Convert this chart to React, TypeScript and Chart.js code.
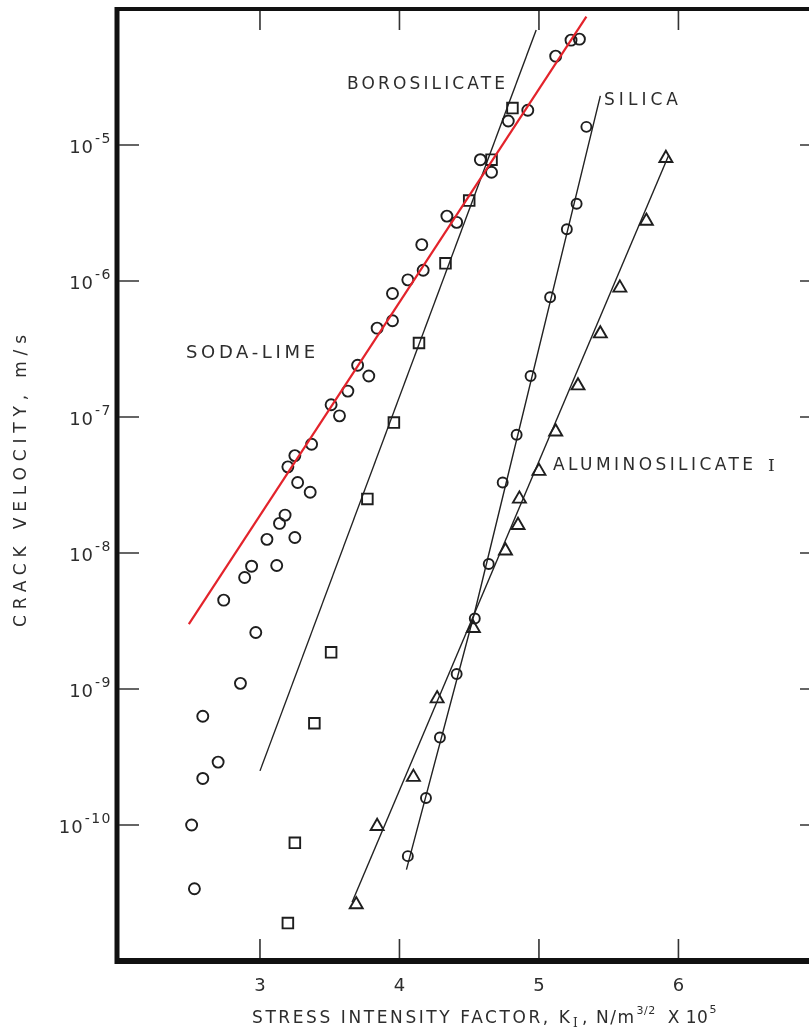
import React, { useEffect, useRef } from "react";
import { Chart, registerables } from "chart.js";

Chart.register(...registerables);

// ---------- data (K in units of 1e5 N/m^3/2, velocity in m/s) ----------
const sodaLimeK = [2.53, 2.51, 2.59, 2.70, 2.59, 2.86, 2.97, 2.74, 2.89, 2.94, 3.12, 3.05, 3.14, 3.18, 3.25, 3.36, 3.27, 3.20, 3.25, 3.37, 3.51, 3.57, 3.63, 3.70, 3.78, 3.84, 3.95, 3.95, 4.06, 4.17, 4.16, 4.34, 4.41, 4.58, 4.66, 4.78, 4.92, 5.12, 5.23, 5.29];
const sodaLimeV = [3.4e-11, 1.0e-10, 2.2e-10, 2.9e-10, 6.3e-10, 1.1e-9, 2.6e-9, 4.5e-9, 6.6e-9, 8.0e-9, 8.1e-9, 1.26e-8, 1.65e-8, 1.9e-8, 1.3e-8, 2.8e-8, 3.3e-8, 4.3e-8, 5.2e-8, 6.3e-8, 1.23e-7, 1.02e-7, 1.55e-7, 2.4e-7, 2.0e-7, 4.5e-7, 5.1e-7, 8.1e-7, 1.02e-6, 1.2e-6, 1.85e-6, 3.0e-6, 2.7e-6, 7.8e-6, 6.3e-6, 1.5e-5, 1.8e-5, 4.5e-5, 5.9e-5, 6.0e-5];

const borosilicateK = [3.20, 3.25, 3.39, 3.51, 3.77, 3.96, 4.14, 4.33, 4.50, 4.66, 4.81];
const borosilicateV = [1.9e-11, 7.4e-11, 5.6e-10, 1.86e-9, 2.5e-8, 9.1e-8, 3.5e-7, 1.35e-6, 3.9e-6, 7.8e-6, 1.87e-5];

const silicaK = [4.06, 4.19, 4.29, 4.41, 4.54, 4.64, 4.74, 4.84, 4.94, 5.08, 5.20, 5.27, 5.34];
const silicaV = [5.9e-11, 1.58e-10, 4.4e-10, 1.29e-9, 3.3e-9, 8.3e-9, 3.3e-8, 7.4e-8, 2.0e-7, 7.6e-7, 2.4e-6, 3.7e-6, 1.36e-5];

const aluminosilicateK = [3.69, 3.84, 4.10, 4.27, 4.53, 4.76, 4.85, 4.86, 5.00, 5.12, 5.28, 5.44, 5.58, 5.77, 5.91];
const aluminosilicateV = [2.6e-11, 9.8e-11, 2.25e-10, 8.5e-10, 2.8e-9, 1.04e-8, 1.6e-8, 2.5e-8, 4.0e-8, 7.8e-8, 1.7e-7, 4.1e-7, 8.9e-7, 2.76e-6, 8.0e-6];

// fitted lines
const sodaLimeFitK = [2.49, 5.34];
const sodaLimeFitV = [3.0e-9, 8.8e-5];
const borosilicateFitK = [3.0, 4.98];
const borosilicateFitV = [2.5e-10, 7.0e-5];
const silicaFitK = [4.05, 4.54, 5.44];
const silicaFitV = [4.7e-11, 3.7e-9, 2.3e-5];
const aluminosilicateFitK = [3.66, 5.93];
const aluminosilicateFitV = [2.7e-11, 8.4e-6];

// axes
const xTicks = [3, 4, 5, 6];
const xTickLabels = ["3", "4", "5", "6"];
const yTickExps = [-5, -6, -7, -8, -9, -10];
const xRange = [1.975, 6.936];
const yRange = [1e-11, 1e-4];

const curveLabels = ["BOROSILICATE", "SILICA", "SODA-LIME", "ALUMINOSILICATE"];

const pts = (xs: number[], ys: number[]) => xs.map((x, i) => ({ x, y: ys[i] }));

const INK = "#2d2d2d";
const FONT = "'DejaVu Sans', 'Open Sans', sans-serif";
const SERIF = "'DejaVu Serif', 'Liberation Serif', serif";

function txt(ctx: CanvasRenderingContext2D, s: string, x: number, y: number, font: string, spacing: number) {
  ctx.font = font;
  (ctx as any).letterSpacing = spacing + "px";
  ctx.fillText(s, x, y);
  const w = ctx.measureText(s).width;
  return x + w;
}

// draw text stretched (by letter spacing) to a given width
function fitTxt(ctx: CanvasRenderingContext2D, s: string, x: number, y: number, font: string, width: number) {
  ctx.font = font;
  (ctx as any).letterSpacing = "0px";
  const w0 = ctx.measureText(s).width;
  const sp = (width - w0) / Math.max(1, s.length - 1);
  txt(ctx, s, x, y, font, sp);
  return x + width;
}

const framePlugin = {
  id: "frameAndText",
  afterDatasetsDraw(chart: any) {
    const { ctx, chartArea: a, scales } = chart;
    const xs = scales.x;
    const ys = scales.y;
    ctx.save();
    ctx.fillStyle = INK;
    ctx.strokeStyle = "#111";

    // frame
    ctx.lineCap = "butt";
    ctx.lineWidth = 5;
    ctx.beginPath();
    ctx.moveTo(a.left, a.top - 2);
    ctx.lineTo(a.left, a.bottom + 3);
    ctx.stroke();
    ctx.lineWidth = 4;
    ctx.beginPath();
    ctx.moveTo(a.left - 2, a.top);
    ctx.lineTo(a.right, a.top);
    ctx.stroke();
    ctx.lineWidth = 6;
    ctx.beginPath();
    ctx.moveTo(a.left - 2, a.bottom);
    ctx.lineTo(a.right, a.bottom);
    ctx.stroke();

    // ticks (inward)
    ctx.lineWidth = 1.6;
    ctx.strokeStyle = "#333";
    xTicks.forEach((v) => {
      const px = xs.getPixelForValue(v);
      ctx.beginPath();
      ctx.moveTo(px, a.bottom - 3);
      ctx.lineTo(px, a.bottom - 22);
      ctx.moveTo(px, a.top + 2);
      ctx.lineTo(px, a.top + 21);
      ctx.stroke();
    });
    yTickExps.forEach((e) => {
      const py = ys.getPixelForValue(Math.pow(10, e));
      ctx.beginPath();
      ctx.moveTo(a.left + 2, py);
      ctx.lineTo(a.left + 22, py);
      ctx.moveTo(a.right - 9, py);
      ctx.lineTo(a.right, py);
      ctx.stroke();
    });

    // y tick labels 10^e
    ctx.textBaseline = "middle";
    ctx.textAlign = "left";
    yTickExps.forEach((e) => {
      const py = ys.getPixelForValue(Math.pow(10, e));
      const sup = "-" + String(-e);
      ctx.font = `14px ${FONT}`;
      (ctx as any).letterSpacing = "1.5px";
      const sw = ctx.measureText(sup).width;
      ctx.font = `18px ${FONT}`;
      (ctx as any).letterSpacing = "1px";
      const bw = ctx.measureText("10").width;
      const right = a.left - 5;
      txt(ctx, "10", right - sw - bw - 1, py + 3, `18px ${FONT}`, 1);
      txt(ctx, sup, right - sw, py - 6, `14px ${FONT}`, 1.5);
    });

    // x tick labels
    ctx.textAlign = "center";
    xTicks.forEach((v, i) => {
      const px = xs.getPixelForValue(v);
      txt(ctx, xTickLabels[i], px, a.bottom + 25, `18px ${FONT}`, 0);
    });

    // x title
    ctx.textAlign = "left";
    ctx.textBaseline = "alphabetic";
    const base = 1023;
    fitTxt(ctx, "STRESS INTENSITY FACTOR, K", 252, base, `17px ${FONT}`, 318);
    txt(ctx, "I", 573, base + 4, `12px ${SERIF}`, 0);
    txt(ctx, ",", 582, base, `17px ${FONT}`, 0);
    const nm = txt(ctx, "N/m", 596, base, `17px ${FONT}`, 1.5);
    const sq = txt(ctx, "3/2", nm + 1, base - 9, `11px ${FONT}`, 0.5);
    const x10 = txt(ctx, "X 10", sq + 12, base, `17px ${FONT}`, 0.5);
    txt(ctx, "5", x10 + 1, base - 10, `11px ${FONT}`, 0);

    // y title (rotated)
    ctx.save();
    ctx.translate(22, 627);
    ctx.rotate(-Math.PI / 2);
    ctx.textAlign = "left";
    ctx.textBaseline = "middle";
    fitTxt(ctx, "CRACK VELOCITY, m/s", 0, 0, `17px ${FONT}`, 292);
    ctx.restore();

    // curve labels
    ctx.textAlign = "left";
    ctx.textBaseline = "middle";
    fitTxt(ctx, curveLabels[0], 347, 85, `17px ${FONT}`, 158);
    fitTxt(ctx, curveLabels[1], 604, 101, `17px ${FONT}`, 74);
    fitTxt(ctx, curveLabels[2], 186, 353, `18px ${FONT}`, 129);
    fitTxt(ctx, curveLabels[3], 553, 466, `17px ${FONT}`, 200);
    txt(ctx, "I", 768, 467, `17px ${SERIF}`, 0);

    ctx.restore();
  },
};

export default function App() {
  const ref = useRef<HTMLCanvasElement>(null);
  useEffect(() => {
    const marker = (style: string, r: number) => ({
      showLine: false,
      pointStyle: style,
      pointRadius: r,
      pointBorderWidth: 1.9,
      pointBorderColor: "#1e1e1e",
      pointBackgroundColor: "rgba(255,255,255,0)",
      order: 1,
    });
    const fit = (color: string, w: number, order: number) => ({
      showLine: true,
      borderColor: color,
      borderWidth: w,
      pointRadius: 0,
      tension: 0,
      order,
    });
    const chart = new Chart(ref.current as HTMLCanvasElement, {
      type: "scatter",
      data: {
        datasets: [
          { label: "Soda-lime fit", data: pts(sodaLimeFitK, sodaLimeFitV), ...fit("#e3232b", 2.2, 0) } as any,
          { label: "Soda-lime", data: pts(sodaLimeK, sodaLimeV), ...marker("circle", 5.5) },
          { label: "Borosilicate", data: pts(borosilicateK, borosilicateV), ...marker("rect", 7.5) },
          { label: "Silica", data: pts(silicaK, silicaV), ...marker("circle", 5) },
          { label: "Aluminosilicate I", data: pts(aluminosilicateK, aluminosilicateV), ...marker("triangle", 7.5) },
          { label: "Borosilicate fit", data: pts(borosilicateFitK, borosilicateFitV), ...fit("#222", 1.4, 2) },
          { label: "Silica fit", data: pts(silicaFitK, silicaFitV), ...fit("#222", 1.4, 2) },
          { label: "Aluminosilicate fit", data: pts(aluminosilicateFitK, aluminosilicateFitV), ...fit("#222", 1.4, 2) },
        ],
      },
      options: {
        animation: false,
        responsive: false,
        devicePixelRatio: 1,
        events: [],
        layout: { autoPadding: false, padding: { left: 117, right: 0, top: 9, bottom: 72 } },
        plugins: { legend: { display: false }, tooltip: { enabled: false } },
        scales: {
          x: { type: "linear", display: false, min: xRange[0], max: xRange[1] },
          y: { type: "logarithmic", display: false, min: yRange[0], max: yRange[1] },
        },
      },
      plugins: [framePlugin],
    } as any);
    return () => chart.destroy();
  }, []);
  return (
    <div style={{ position: "absolute", left: 0, top: 0, width: 809, height: 1033, background: "#fff", overflow: "hidden" }}>
      <canvas ref={ref} width={809} height={1033} style={{ display: "block" }} />
    </div>
  );
}
